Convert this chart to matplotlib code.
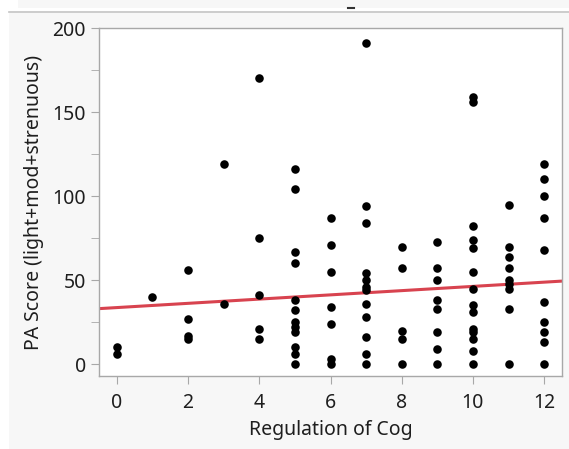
"""Scatter of PA score vs Regulation of Cog with a linear fit (JMP style)."""

import numpy as np
import matplotlib.pyplot as plt
from matplotlib.patches import Rectangle
from matplotlib.lines import Line2D
from matplotlib.ticker import MultipleLocator

plt.rcParams['font.family'] = ['Noto Sans', 'DejaVu Sans']

# ---- data: PA score values grouped by Regulation of Cog ----
reg_levels = [0, 1, 2, 3, 4, 5, 6, 7, 8, 9, 10, 11, 12]
pa_0 = [10, 6]
pa_1 = [40]
pa_2 = [56, 27, 17, 15]
pa_3 = [119, 36]
pa_4 = [170, 75, 41, 21, 15]
pa_5 = [116, 104, 67, 60, 38, 32, 25, 22, 19, 10, 6, 0]
pa_6 = [87, 71, 55, 34, 24, 3, 0]
pa_7 = [191, 94, 84, 54, 50, 46, 44, 36, 28, 16, 6, 0]
pa_8 = [70, 57, 20, 15, 0]
pa_9 = [73, 57, 50, 38, 33, 19, 9, 0]
pa_10 = [159, 156, 82, 74, 69, 55, 45, 35, 31, 21, 19, 15, 8, 0]
pa_11 = [95, 70, 64, 57, 50, 48, 45, 33, 0]
pa_12 = [119, 110, 100, 87, 68, 37, 25, 19, 13, 0]
groups = [pa_0, pa_1, pa_2, pa_3, pa_4, pa_5, pa_6, pa_7,
          pa_8, pa_9, pa_10, pa_11, pa_12]

# fitted line as shown in the chart (intercept, slope)
fit_intercept = 33.7
fit_slope = 1.26

x_ticks = [0, 2, 4, 6, 8, 10, 12]
y_ticks = [0, 50, 100, 150, 200]

xs = np.concatenate([[lv] * len(g) for lv, g in zip(reg_levels, groups)])
ys = np.concatenate([g for g in groups])

C_BG = '#f7f7f7'
C_SPINE = '#a8a8a8'
C_TEXT = '#1e1e1e'
C_FIT = '#d8434f'

fig = plt.figure(figsize=(5.69, 4.49), dpi=100)
fig.patch.set_facecolor('white')

# JMP window background
fig.patches.append(Rectangle((9 / 569, 0), 1, 1 - 13 / 449, transform=fig.transFigure,
                             facecolor=C_BG, edgecolor='none', zorder=-2))
fig.patches.append(Rectangle((18 / 569, 1 - 8 / 449), 1, 8 / 449, transform=fig.transFigure,
                             facecolor=C_BG, edgecolor='none', zorder=-2))
fig.lines.append(Line2D([9 / 569, 1], [1 - 12 / 449] * 2, transform=fig.transFigure,
                        color='#c4c4c4', lw=1.2))
fig.lines.append(Line2D([348 / 569, 354 / 569], [1 - 8 / 449] * 2, transform=fig.transFigure,
                        color='#333333', lw=1.5))

ax = fig.add_axes([99 / 569, 73 / 449, 463 / 569, 348 / 449])
ax.set_facecolor('white')

ax.scatter(xs, ys, s=38, color='black', zorder=3, linewidths=0)

xl = np.array([-0.5, 12.5])
ax.plot(xl, fit_intercept + fit_slope * xl, color=C_FIT, lw=2.2, zorder=2)

ax.set_xlim(-0.5, 12.5)
ax.set_ylim(-7, 200)
ax.set_xticks(x_ticks)
ax.set_yticks(y_ticks)
ax.yaxis.set_minor_locator(MultipleLocator(25))

for s in ax.spines.values():
    s.set_color(C_SPINE)
    s.set_linewidth(1)

ax.tick_params(axis='both', which='both', color=C_SPINE, direction='out',
               labelsize=14, labelcolor=C_TEXT)
ax.tick_params(axis='both', which='major', length=6)
ax.tick_params(axis='x', which='major', pad=6)
ax.tick_params(axis='y', which='minor', length=6)

ax.set_xlabel('Regulation of Cog', fontsize=14, color=C_TEXT, labelpad=5)
ax.set_ylabel('PA Score (light+mod+strenuous)', fontsize=14, color=C_TEXT, labelpad=6)

fig.savefig('out.png', dpi=100, facecolor=fig.get_facecolor())
plt.close(fig)
